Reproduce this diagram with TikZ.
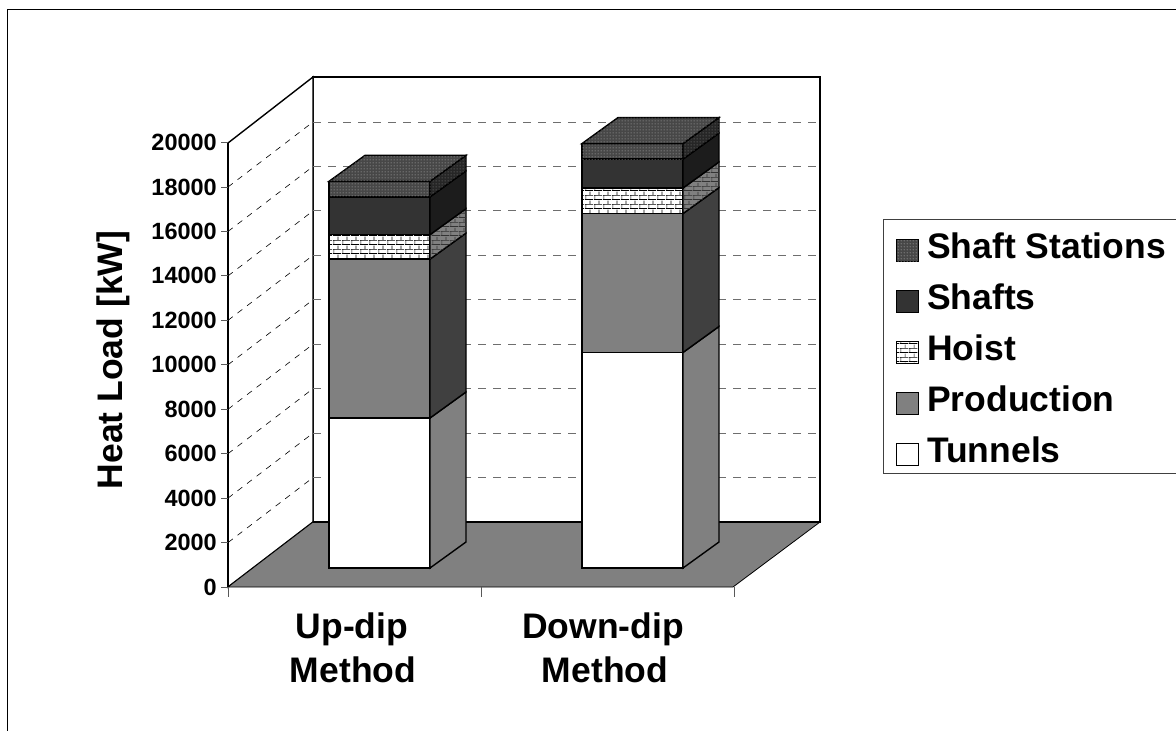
\documentclass[tikz,border=0pt]{standalone}
\usepackage{fontspec}
\setmainfont{Liberation Sans}
\usepackage{xcolor}
\usetikzlibrary{patterns.meta}
\definecolor{floorgray}{RGB}{128,128,128}
\definecolor{shaftdark}{RGB}{51,51,51}
\definecolor{shaftside}{RGB}{28,28,28}
\definecolor{prodside}{RGB}{64,64,64}
\definecolor{gridgray}{RGB}{110,110,110}

% brick and dot fills for the hatched series
\tikzdeclarepattern{
  name=minebricks, type=uncolored,
  bounding box={(0pt,0pt) and (9pt,9pt)},
  tile size={(9pt,9pt)},
  code={
    \draw[line width=0.7pt] (0pt,0.5pt) -- (9pt,0.5pt) (0pt,5pt) -- (9pt,5pt)
      (1pt,0.5pt) -- (1pt,5pt) (5.5pt,5pt) -- (5.5pt,9pt);
  }
}
\tikzdeclarepattern{
  name=minedots, type=uncolored,
  bounding box={(0pt,0pt) and (3pt,3pt)},
  tile size={(3pt,3pt)},
  code={\fill (1.5pt,1.5pt) circle (0.75pt);}
}

% one block of a stacked bar: left x, lower and upper cumulative load (MW), front and side styles
\newcommand{\barblock}[5]{%
  \pgfmathsetmacro{\ylo}{568-22.222*#2}%
  \pgfmathsetmacro{\yhi}{568-22.222*#3}%
  \draw[barline, #4] (#1,\ylo) rectangle ({#1+101},\yhi);
  \draw[barline, #5] ({#1+101},\ylo) -- ({#1+137},{\ylo-26}) -- ({#1+137},{\yhi-26})
    -- ({#1+101},\yhi) -- cycle;
}
\newcommand{\bartop}[2]{%
  \pgfmathsetmacro{\yhi}{568-22.222*#2}%
  \draw[barline, stationfront] (#1,\yhi) -- ({#1+36},{\yhi-26}) -- ({#1+137},{\yhi-26})
    -- ({#1+101},\yhi) -- cycle;
}

\begin{document}
\begin{tikzpicture}[
  x=1pt, y=-1pt,
  barline/.style={draw=black, line width=1.4pt, line join=miter},
  tunfront/.style={fill=white},
  tunside/.style={fill=floorgray},
  prodfront/.style={fill=floorgray},
  prodside/.style={fill=prodside},
  hoistfront/.style={fill=white, postaction={pattern=minebricks, pattern color=black}},
  hoistside/.style={fill=floorgray, postaction={pattern=minebricks, pattern color=black!80}},
  shaftfront/.style={fill=shaftdark},
  shaftsides/.style={fill=shaftside},
  stationfront/.style={fill=black!72, postaction={pattern=minedots, pattern color=black!42}},
  stationside/.style={fill=black!85, postaction={pattern=minedots, pattern color=black!58}},
  wall/.style={draw=black, line width=1.4pt, fill=white},
  backgrid/.style={draw=gridgray, line width=0.9pt, dash pattern=on 8pt off 7pt},
  sidegrid/.style={draw=black, line width=0.6pt, dash pattern=on 6pt off 6pt},
  tickline/.style={draw=black!65, line width=0.8pt},
  ticklab/.style={font=\fontsize{23.5}{28}\selectfont\bfseries, anchor=east, inner sep=0pt},
  biglab/.style={font=\fontsize{35.5}{44}\selectfont\bfseries, inner sep=0pt},
  swatch/.style={draw=black, line width=0.8pt}
]
\useasboundingbox (0,0) rectangle (1176,731);
% outer chart frame
\draw[line width=1pt] (1176,9.5) -- (7,9.5) -- (7,731);

% walls, grid and floor
\draw[wall] (313,77) rectangle (820,522);
\draw[wall] (228,143) -- (313,77) -- (313,522) -- (228,587) -- cycle;
\foreach \k in {1,...,9} {
  \pgfmathsetmacro{\yf}{587-44.444*\k}
  \pgfmathsetmacro{\yb}{522-44.444*\k}
  \draw[sidegrid] (228,\yf) -- (313,\yb);
  \draw[backgrid] (313,\yb) -- (820,\yb);
}
\draw[fill=floorgray, draw=black, line width=0.8pt]
  (228,587) -- (733,587) -- (820,522) -- (313,522) -- cycle;
\draw[black, line width=1.4pt] (313,522) -- (820,522);
\draw[black, line width=1.2pt] (228,143) -- (228,587);

% value axis
\foreach \k in {0,...,10} {
  \pgfmathsetmacro{\yy}{587-44.444*\k}
  \draw[tickline] (221,\yy) -- (228,\yy);
  \node[ticklab] (tick\k) at (217,\yy) {\the\numexpr 2000*\k\relax};
}
\draw[tickline] (228,587) -- (228,597);
\draw[tickline] (481,587) -- (481,597);
\draw[tickline] (734,587) -- (734,597);
\node[biglab, rotate=90, anchor=base] (ylab) at (122,360) {Heat Load [kW]};

% Up-dip bar
\barblock{329}{0}{6.75}{tunfront}{tunside}
\barblock{329}{6.75}{13.9}{prodfront}{prodside}
\barblock{329}{13.9}{15.0}{hoistfront}{hoistside}
\barblock{329}{15.0}{16.7}{shaftfront}{shaftsides}
\barblock{329}{16.7}{17.4}{stationfront}{stationside}
\bartop{329}{17.4}

% Down-dip bar
\barblock{582}{0}{9.7}{tunfront}{tunside}
\barblock{582}{9.7}{15.95}{prodfront}{prodside}
\barblock{582}{15.95}{17.1}{hoistfront}{hoistside}
\barblock{582}{17.1}{18.4}{shaftfront}{shaftsides}
\barblock{582}{18.4}{19.1}{stationfront}{stationside}
\bartop{582}{19.1}

% category labels
\node[biglab, anchor=base] (upa)   at (352,638) {Up-dip};
\node[biglab, anchor=base] (upb)   at (353,682) {Method};
\node[biglab, anchor=base] (downa) at (603,638) {Down-dip};
\node[biglab, anchor=base] (downb) at (605,682) {Method};

% legend
\draw[black!75, line width=1pt] (1176,219) -- (883,219) -- (883,473) -- (1176,473);
\foreach \b/\sty/\txt [count=\i] in {258/stationfront/Shaft Stations, 309/shaftfront/Shafts,
    360/hoistfront/Hoist, 411/prodfront/Production, 462/tunfront/Tunnels} {
  \draw[swatch, \sty] (896,{\b-19}) rectangle (918,{\b+3});
  \node[biglab, anchor=base west] (leg\i) at (927,\b) {\txt};
}
\end{tikzpicture}
\end{document}
